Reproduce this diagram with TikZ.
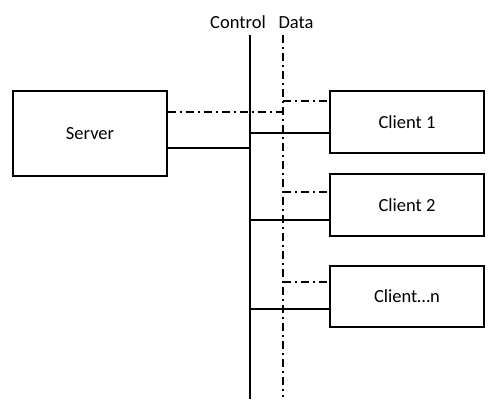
\documentclass[tikz,border=0pt]{standalone}
\usepackage{fontspec}
\setmainfont{Carlito}
\usetikzlibrary{positioning}

\begin{document}
\begin{tikzpicture}[
            x = 1pt, y = -1pt, % pixel-like units, y down
            semithick, % line style
            font = \fontsize{18.5}{22}\selectfont
        ]

        \tikzstyle{box}=[
            draw = black,
            line width = 1.3pt,
            fill = white,
            minimum width = 154pt,
            inner sep = 0pt
        ]
        \tikzstyle{ctrl}=[line width = 1.8pt]
        \tikzstyle{data}=[line width = 1.8pt, dash pattern = on 8pt off 4pt on 2pt off 4pt]

        \useasboundingbox (0,0) rectangle (504,410);

        % buses
        \coordinate (ctop) at (250,35);
        \coordinate (cbot) at (250,399);
        \coordinate (dtop) at (283,35);
        \coordinate (dbot) at (283,397);
        \node[anchor=base] (ctrllbl) at (238,28) {Control};
        \node[anchor=base] (datalbl) at (296,28) {Data};

        % boxes
        \node[box, minimum height = 85pt] (server) at (90,133.5) {Server};
        \node[box, minimum height = 62pt] (client1) at (407,122) {Client 1};
        \node[box, minimum height = 62pt] (client2) at (407,205) {Client 2};
        \node[box, minimum height = 61pt] (clientn) at (407,296.5) {Client…n};

        \draw[ctrl] (ctop) -- (cbot);
        \draw[data] (dtop) -- (dbot);

        % server links
        \draw[data] (server.east |- 0,112) -- (dtop |- 0,112);
        \draw[ctrl] (server.east |- 0,148) -- (ctop |- 0,148);

        % client links
        \draw[data] (dtop |- 0,101) -- (client1.west |- 0,101);
        \draw[ctrl] (ctop |- 0,133) -- (client1.west |- 0,133);
        \draw[data] (dtop |- 0,192) -- (client2.west |- 0,192);
        \draw[ctrl] (ctop |- 0,220) -- (client2.west |- 0,220);
        \draw[data] (dtop |- 0,282) -- (clientn.west |- 0,282);
        \draw[ctrl] (ctop |- 0,309) -- (clientn.west |- 0,309);

  \end{tikzpicture}
\end{document}
